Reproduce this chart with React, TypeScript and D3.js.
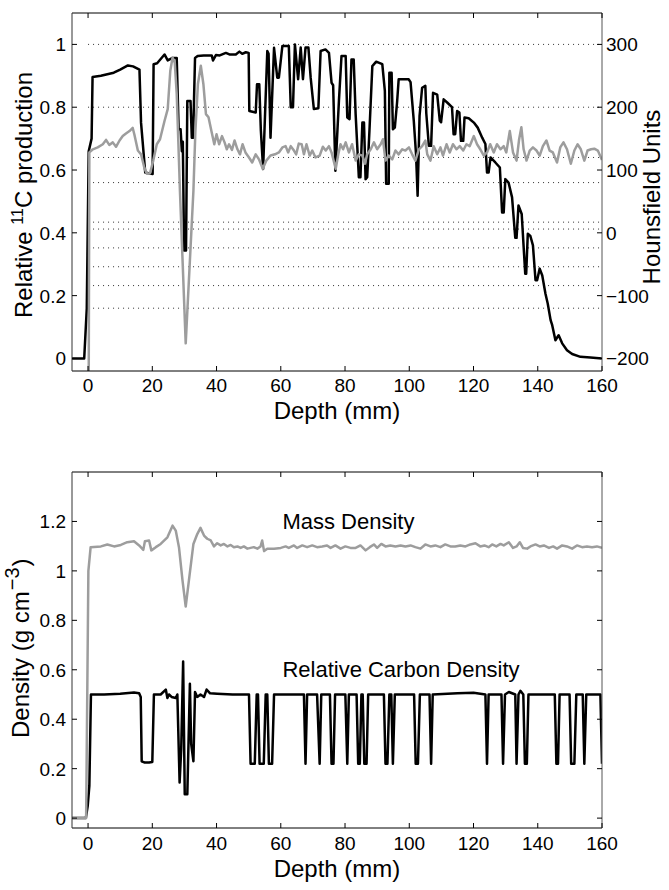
import React from 'react';
import * as d3 from 'd3';

// ---- data ----
const depthTicks = [0, 20, 40, 60, 80, 100, 120, 140, 160];
const relTicks = [0, 0.2, 0.4, 0.6, 0.8, 1];
const huTicks = [-200, -100, 0, 100, 200, 300];
const densityTicks = [0, 0.2, 0.4, 0.6, 0.8, 1, 1.2];
// dotted reference levels in the top panel (HU)
const huGridLevels = [300, 200, 120, 80, 17, 6, -24, -54, -84, -120];

// relative 11C production vs depth (mm)
const production: [number, number][] = [
  [-5, 0], [-1.2, 0], [-0.4, 0.16], [0.2, 0.66], [1.1, 0.7], [1.4, 0.896], [4, 0.9], [6, 0.905], [8, 0.91],
  [10, 0.92], [12.4, 0.933], [14, 0.93], [16, 0.92], [16.5, 0.75], [17.8, 0.592], [20.1, 0.587], [20.4, 0.937],
  [21.5, 0.94], [23.8, 0.968], [24.8, 0.949], [26.3, 0.957], [27.6, 0.957], [28.2, 0.73], [28.8, 0.73],
  [29.2, 0.66], [29.5, 0.69], [29.9, 0.344], [30.5, 0.344], [30.9, 0.82], [31.9, 0.82], [32.3, 0.703],
  [32.7, 0.703], [33.3, 0.957], [34.1, 0.963], [36, 0.965], [38.5, 0.965], [38.9, 0.949], [39.8, 0.966],
  [41, 0.965], [42.9, 0.973], [44, 0.968], [46, 0.968], [47.1, 0.977], [48, 0.97], [49.1, 0.975], [50, 0.973],
  [50.2, 0.788], [52.2, 0.783], [52.6, 0.873], [53.3, 0.873], [53.8, 0.725], [54.5, 0.603], [55.8, 0.979],
  [56.2, 0.97], [56.8, 0.703], [57.9, 0.989], [58.9, 0.894], [59.4, 0.894], [60.5, 0.995], [62.5, 0.995],
  [63.1, 0.8], [63.8, 0.8], [64.4, 1.0], [65.4, 0.889], [66.2, 0.99], [66.9, 0.889], [67.7, 0.99], [68.6, 0.99],
  [69.3, 0.894], [70.3, 0.794], [71.7, 0.797], [72.4, 0.979], [73.9, 0.984], [75, 0.973], [75.8, 0.878],
  [76.3, 0.87], [77, 0.598], [78.1, 0.82], [78.9, 0.963], [80.2, 0.963], [80.7, 0.767], [81.4, 0.762],
  [82, 0.952], [82.7, 0.952], [83.3, 0.778], [84.3, 0.577], [84.8, 0.577], [85.4, 0.751], [85.9, 0.751],
  [86.4, 0.571], [86.9, 0.577], [87.6, 0.725], [88.5, 0.931], [89.7, 0.945], [91.6, 0.937], [92.4, 0.852],
  [92.8, 0.556], [93.6, 0.556], [93.8, 0.91], [94.5, 0.91], [94.9, 0.73], [95.5, 0.735], [96.2, 0.815],
  [96.7, 0.889], [99.8, 0.889], [100.4, 0.88], [101.4, 0.757], [102.1, 0.651], [102.6, 0.518], [103.2, 0.772],
  [104, 0.862], [105, 0.868], [105.3, 0.78], [106.1, 0.677], [106.8, 0.677], [107.4, 0.846], [108.7, 0.84],
  [109.5, 0.757], [109.9, 0.752], [110.7, 0.825], [111.8, 0.815], [113.3, 0.8], [113.8, 0.714], [114.3, 0.714],
  [114.9, 0.788], [115.6, 0.783], [116.1, 0.693], [116.8, 0.693], [117.2, 0.767], [118.5, 0.765], [120.1, 0.751],
  [121.3, 0.735], [122.7, 0.703], [123.7, 0.683], [124.2, 0.592], [124.7, 0.592], [125.3, 0.64], [126.8, 0.624],
  [128.2, 0.608], [128.9, 0.465], [129.4, 0.465], [129.9, 0.571], [130.9, 0.56], [132, 0.513], [133, 0.384],
  [133.4, 0.384], [134, 0.487], [135, 0.46], [136.1, 0.27], [136.4, 0.27], [136.9, 0.397], [137.7, 0.39],
  [138.5, 0.36], [139.3, 0.249], [139.8, 0.249], [140.6, 0.286], [141.4, 0.264], [142.4, 0.206], [143.1, 0.175],
  [144, 0.122], [144.5, 0.106], [145.5, 0.058], [146.5, 0.074], [147.6, 0.048], [149.1, 0.026], [150.7, 0.014],
  [153.3, 0.005], [156.4, 0.003], [160, 0],
];

// Hounsfield units vs depth (mm), right axis
const hounsfield: [number, number][] = [
  [-5, -1000], [-0.2, -1000], [0.4, 128], [1.5, 133], [3, 136], [4.6, 141], [5.6, 148], [6.6, 140], [7.7, 144],
  [8.7, 137], [9.8, 147], [10.8, 154], [11.8, 158], [12.9, 162], [13.9, 167], [14.4, 157], [15.5, 131],
  [16.5, 125], [17.5, 104], [18.3, 94], [19.3, 95], [20.3, 115], [21.4, 141], [22.4, 149], [23.8, 178],
  [24.8, 197], [25.6, 258], [26.3, 279], [27, 271], [27.6, 221], [28.2, 130], [28.6, 67], [30.4, -176],
  [32.8, 67], [33.4, 160], [34.2, 237], [35.1, 266], [35.9, 237], [36.7, 189], [37.5, 184], [38.4, 162],
  [39.3, 141], [40, 157], [40.8, 141], [41.7, 154], [42.5, 144], [43.2, 133], [43.9, 141], [44.8, 132],
  [45.6, 147], [46.5, 133], [47.3, 125], [48.1, 141], [49, 128], [50.1, 120], [51.1, 112], [52.2, 125],
  [53.2, 117], [54.4, 102], [55.5, 115], [56.8, 123], [58.2, 125], [59.4, 128], [60.5, 136], [61.5, 138],
  [62.3, 128], [63.1, 138], [64.1, 131], [64.8, 125], [65.6, 142], [66.5, 141], [67.2, 125], [68, 141],
  [69, 123], [69.8, 131], [70.8, 120], [72.1, 123], [73.1, 137], [74, 131], [75, 138], [75.8, 128], [77.1, 102],
  [77.9, 125], [78.6, 141], [79.4, 133], [80.2, 144], [81.2, 128], [82.2, 141], [83.3, 115], [84.3, 125],
  [85.4, 123], [86.2, 110], [86.9, 125], [88, 133], [89, 144], [90, 133], [91.1, 141], [91.8, 149], [92.6, 115],
  [93.6, 123], [94.7, 117], [95.7, 131], [96.7, 125], [97.8, 133], [98.8, 131], [99.9, 136], [100.9, 125],
  [101.9, 115], [103, 133], [104, 138], [105, 147], [105.6, 125], [106.6, 115], [107.6, 138], [108.7, 125],
  [109.7, 136], [110.5, 123], [111.6, 141], [112.6, 128], [113.6, 141], [114.7, 133], [115.7, 138], [116.8, 131],
  [117.8, 141], [118.8, 138], [120.1, 154], [121.1, 141], [122.1, 133], [123.2, 123], [124.2, 128], [125.2, 141],
  [126.3, 128], [127.3, 141], [128.4, 133], [129.4, 138], [130.2, 128], [131.3, 162], [132.3, 128], [133.4, 115],
  [134.2, 149], [134.9, 168], [135.6, 133], [136.5, 115], [137.5, 131], [138.5, 136], [139.6, 131], [140.6, 123],
  [141.6, 138], [142.7, 147], [143.7, 131], [144.7, 128], [146, 112], [147, 136], [148, 144], [149.1, 133],
  [150.3, 110], [151.4, 131], [152.4, 141], [153.4, 133], [154.5, 115], [155.5, 131], [156.6, 133], [157.6, 134],
  [158.7, 131], [160, 116],
];

// mass density (g/cm3) vs depth (mm)
const massDensity: [number, number][] = [
  [-5, 0], [-0.6, 0], [0.1, 1.0], [0.8, 1.096], [4, 1.099], [6, 1.107], [8.1, 1.099], [10.2, 1.105], [12.2, 1.116],
  [14.3, 1.12], [15.9, 1.103], [17.2, 1.085], [17.7, 1.12], [19, 1.123], [19.7, 1.083], [21.1, 1.096], [22.6, 1.109],
  [24.7, 1.136], [26.3, 1.183], [27.3, 1.163], [28.3, 1.096], [29.4, 0.962], [30.4, 0.856], [31.4, 0.962],
  [32.8, 1.109], [34, 1.149], [35, 1.174], [36.1, 1.143], [37.1, 1.13], [38.2, 1.123], [39.2, 1.099], [40.2, 1.112],
  [41.3, 1.103], [42.3, 1.109], [43.4, 1.099], [44.4, 1.105], [45.4, 1.096], [46.5, 1.099], [47.5, 1.093],
  [48.5, 1.099], [49.6, 1.09], [50.6, 1.093], [51.6, 1.096], [52.7, 1.09], [53.7, 1.099], [54.2, 1.123],
  [54.8, 1.08], [55.8, 1.09], [57.9, 1.09], [60, 1.093], [61.5, 1.099], [62.5, 1.093], [64.1, 1.103], [65.1, 1.093],
  [66.7, 1.103], [68.2, 1.096], [69.8, 1.103], [71.3, 1.096], [72.9, 1.099], [74.4, 1.103], [75.5, 1.093],
  [77, 1.103], [78.6, 1.09], [80.1, 1.099], [81.7, 1.093], [83.3, 1.093], [84.8, 1.103], [86.4, 1.083],
  [87.7, 1.096], [89, 1.107], [90, 1.093], [91.3, 1.109], [92.6, 1.099], [94.1, 1.103], [95.7, 1.099],
  [97.3, 1.103], [98.8, 1.099], [100.4, 1.103], [101.9, 1.096], [103.5, 1.09], [105, 1.107], [106.6, 1.099],
  [108.1, 1.103], [109.7, 1.096], [111.2, 1.107], [112.8, 1.099], [114.3, 1.099], [115.9, 1.103], [117.5, 1.099],
  [119, 1.107], [120.6, 1.112], [122.1, 1.099], [123.4, 1.103], [124.7, 1.096], [125.8, 1.107], [127.1, 1.099],
  [128.4, 1.109], [129.4, 1.103], [131, 1.116], [132.3, 1.093], [133.4, 1.099], [134.4, 1.116], [135.4, 1.093],
  [136.7, 1.09], [137.7, 1.099], [139.3, 1.107], [140.6, 1.099], [141.9, 1.103], [143.5, 1.093], [144.8, 1.099],
  [146, 1.09], [147.6, 1.103], [149.1, 1.099], [150.7, 1.09], [152.2, 1.103], [153.8, 1.096], [155.3, 1.099],
  [156.9, 1.096], [158.4, 1.099], [160, 1.093],
];

// relative carbon density vs depth (mm)
const carbonDensity: [number, number][] = [
  [-5, 0], [-0.7, 0], [-0.1, 0.05], [0.4, 0.13], [0.9, 0.5], [5, 0.5], [10, 0.503], [14.3, 0.508], [15.9, 0.505],
  [16.4, 0.49], [16.7, 0.23], [17.5, 0.225], [19, 0.225], [20, 0.227], [20.5, 0.5], [22.6, 0.5], [24.2, 0.52],
  [24.7, 0.486], [25.2, 0.5], [26, 0.49], [27.3, 0.486], [27.8, 0.5], [28.5, 0.144], [29, 0.278], [29.6, 0.633],
  [30.1, 0.097], [30.9, 0.097], [31.7, 0.543], [32.1, 0.3], [32.8, 0.23], [33.3, 0.51], [34, 0.49], [35, 0.5],
  [36.1, 0.49], [36.9, 0.52], [38, 0.505], [40.2, 0.503], [45, 0.5], [50.1, 0.5], [50.6, 0.22], [51.9, 0.22],
  [52.5, 0.5], [52.9, 0.5], [53.4, 0.22], [54.7, 0.22], [55.3, 0.5], [55.8, 0.5], [56.3, 0.22], [57.3, 0.22],
  [57.9, 0.5], [62, 0.5], [67.2, 0.5], [67.7, 0.22], [68.2, 0.5], [71.3, 0.5], [72.1, 0.22], [72.6, 0.5],
  [75.3, 0.5], [75.8, 0.22], [76.4, 0.22], [76.9, 0.5], [80.1, 0.5], [80.7, 0.22], [81.2, 0.5], [83.6, 0.5],
  [84.1, 0.22], [84.6, 0.22], [85.1, 0.5], [85.5, 0.5], [86, 0.22], [86.7, 0.22], [87.2, 0.5], [92.1, 0.5],
  [92.6, 0.22], [93.2, 0.22], [93.8, 0.5], [94.4, 0.5], [94.9, 0.22], [95.5, 0.5], [101.5, 0.5], [102, 0.22],
  [102.7, 0.22], [103.3, 0.5], [106.3, 0.5], [106.8, 0.22], [107.3, 0.5], [115, 0.505], [120, 0.507],
  [123.7, 0.5], [124.2, 0.22], [124.7, 0.5], [128.7, 0.5], [129.2, 0.22], [129.8, 0.5], [131, 0.51], [133, 0.5],
  [133.4, 0.22], [134, 0.5], [134.6, 0.515], [135.5, 0.5], [136, 0.22], [136.6, 0.22], [137.1, 0.5], [140, 0.5],
  [145.3, 0.5], [145.8, 0.22], [146.3, 0.22], [146.8, 0.5], [149.9, 0.5], [150.4, 0.22], [151.4, 0.22], [152, 0.5],
  [154, 0.5], [154.5, 0.22], [155.1, 0.5], [159.5, 0.5], [160, 0.22],
];

const W = 669;
const H = 890;
const left = 72;
const right = 602;
const FONT = '"Liberation Sans", Arial, Helvetica, sans-serif';
const GRAY = '#9d9d9d';
const TICK = 5;

const minus = (v: number) => String(v).replace('-', '\u2212');

export default function App() {
  const x = d3.scaleLinear().domain([-5, 160]).range([left, right]);

  // top panel
  const t0 = 13, t1 = 371;
  const yRel = d3.scaleLinear().domain([-0.04, 1.1]).range([t1, t0]);
  const yHU = d3.scaleLinear().domain([-220, 350]).range([t1, t0]);

  // bottom panel
  const b0 = 472, b1 = 828;
  const yDen = d3.scaleLinear().domain([-0.04, 1.4]).range([b1, b0]);

  const line = (ys: d3.ScaleLinear<number, number>) =>
    d3.line<[number, number]>().x(d => x(d[0])).y(d => ys(d[1]));

  const xAxis = (y0: number, y1: number, labelY: number, titleY: number) => (
    <g>
      {depthTicks.map(t => (
        <g key={t}>
          <line x1={x(t)} x2={x(t)} y1={y1} y2={y1 - TICK} stroke="#000" />
          <line x1={x(t)} x2={x(t)} y1={y0} y2={y0 + TICK} stroke="#000" />
          <text x={x(t)} y={labelY} textAnchor="middle" fontSize={19}>{t}</text>
        </g>
      ))}
      <text x={(left + right) / 2} y={titleY} textAnchor="middle" fontSize={24}>Depth (mm)</text>
    </g>
  );

  return (
    <svg width={W} height={H} style={{ position: 'absolute', left: 0, top: 0, background: '#fff' }}
      fontFamily={FONT}>
      <defs>
        <clipPath id="clipTop"><rect x={left} y={t0} width={right - left} height={t1 - t0} /></clipPath>
        <clipPath id="clipBot"><rect x={left} y={b0} width={right - left} height={b1 - b0} /></clipPath>
      </defs>
      <rect width={W} height={H} fill="#fff" />

      {/* ---------- top panel ---------- */}
      {huGridLevels.map(h => (
        <line key={h} x1={x(0)} x2={right} y1={yHU(h)} y2={yHU(h)} stroke="#333"
          strokeWidth={1} strokeDasharray="1,4" />
      ))}
      <g clipPath="url(#clipTop)">
        <path d={line(yRel)(production) || ''} fill="none" stroke="#000" strokeWidth={2.5} strokeLinejoin="round" />
        <path d={line(yHU)(hounsfield) || ''} fill="none" stroke={GRAY} strokeWidth={2.5} strokeLinejoin="round" />
      </g>
      <line x1={left} x2={right} y1={t0} y2={t0} stroke="#000" />
      <line x1={left} x2={right} y1={t1} y2={t1} stroke="#000" />
      <line x1={left} x2={left} y1={t0} y2={t1} stroke="#333" />
      <line x1={right} x2={right} y1={t0} y2={t1} stroke="#555" />
      {relTicks.map(t => (
        <g key={t}>
          <line x1={left} x2={left + TICK} y1={yRel(t)} y2={yRel(t)} stroke="#000" />
          <text x={66} y={yRel(t) + 7} textAnchor="end" fontSize={19}>{t}</text>
        </g>
      ))}
      {huTicks.map(t => (
        <g key={t}>
          <line x1={right} x2={right - TICK} y1={yHU(t)} y2={yHU(t)} stroke="#000" />
          <text x={606} y={yHU(t) + 7} textAnchor="start" fontSize={19}>{minus(t)}</text>
        </g>
      ))}
      {xAxis(t0, t1, 392, 419)}
      <text transform={`translate(31.5,318) rotate(-90)`} fontSize={24}>
        Relative <tspan dy={-9} fontSize={16}>11</tspan><tspan dy={9}>C production</tspan>
      </text>
      <text transform={`translate(660,197) rotate(-90)`} textAnchor="middle" fontSize={24}>Hounsfield Units</text>

      {/* ---------- bottom panel ---------- */}
      <g clipPath="url(#clipBot)">
        <path d={line(yDen)(carbonDensity) || ''} fill="none" stroke="#000" strokeWidth={2.5} strokeLinejoin="round" />
        <path d={line(yDen)(massDensity) || ''} fill="none" stroke={GRAY} strokeWidth={2.5} strokeLinejoin="round" />
      </g>
      <line x1={left} x2={right} y1={b0} y2={b0} stroke="#000" />
      <line x1={left} x2={right} y1={b1} y2={b1} stroke="#000" />
      <line x1={left} x2={left} y1={b0} y2={b1} stroke="#333" />
      <line x1={right} x2={right} y1={b0} y2={b1} stroke="#555" />
      {densityTicks.map(t => (
        <g key={t}>
          <line x1={left} x2={left + TICK} y1={yDen(t)} y2={yDen(t)} stroke="#000" />
          <line x1={right} x2={right - TICK} y1={yDen(t)} y2={yDen(t)} stroke="#000" />
          <text x={66} y={yDen(t) + 7} textAnchor="end" fontSize={19}>{t}</text>
        </g>
      ))}
      {xAxis(b0, b1, 850, 877)}
      <text x={x(60.5)} y={yDen(1.17)} fontSize={22}>Mass Density</text>
      <text x={x(60.5)} y={yDen(0.57)} fontSize={22}>Relative Carbon Density</text>
      <text transform={`translate(29,738) rotate(-90)`} fontSize={24}>
        Density (g cm<tspan dx={1} dy={-10} fontSize={20}>{'\u22123'}</tspan><tspan dx={1} dy={10}>)</tspan>
      </text>
    </svg>
  );
}
